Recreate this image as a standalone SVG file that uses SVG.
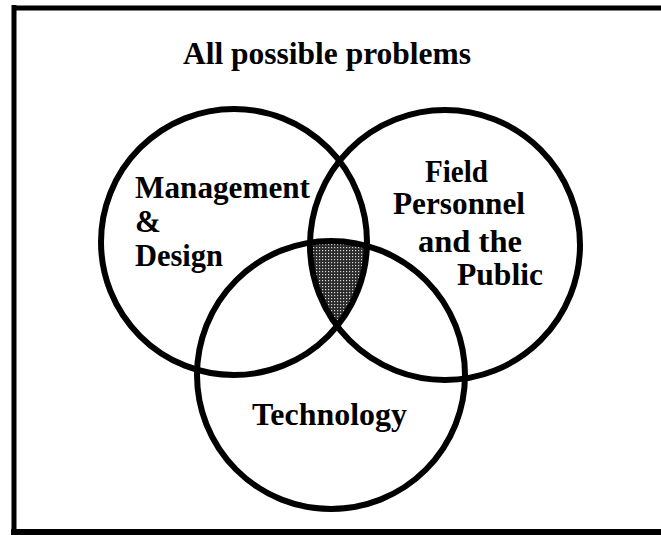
<svg xmlns="http://www.w3.org/2000/svg" width="661" height="535" viewBox="0 0 661 535">
  <style>
    .ring { fill: none; stroke: #000; stroke-width: 6; }
    .label { font-family: "Liberation Serif", "Times New Roman", serif; font-weight: bold; font-size: 31px; fill: #000; }
  </style>
  <defs>
    <pattern id="halftone" width="3" height="3" patternUnits="userSpaceOnUse">
      <rect width="3" height="3" fill="#2a2a2a"/>
      <rect x="1" y="1" width="1.2" height="1.2" fill="#d8d8d8"/>
    </pattern>
    <clipPath id="clipLeft"><circle cx="234" cy="242" r="133"/></clipPath>
    <clipPath id="clipRight"><circle cx="445" cy="245" r="135"/></clipPath>
  </defs>

  <rect width="661" height="535" fill="#fff"/>

  <!-- frame -->
  <g id="frame" fill="none" stroke="#000">
    <line x1="14" y1="8" x2="661" y2="8" stroke-width="5"/>
    <line x1="14" y1="5" x2="14" y2="535" stroke-width="5"/>
    <line x1="11" y1="532" x2="661" y2="532" stroke-width="6"/>
  </g>

  <g id="title">
    <text class="label" x="183" y="64" textLength="288" lengthAdjust="spacingAndGlyphs">All possible problems</text>
  </g>

  <!-- region shared by all three sets -->
  <g id="overlap" clip-path="url(#clipLeft)">
    <g clip-path="url(#clipRight)">
      <circle cx="331" cy="375" r="134" fill="url(#halftone)"/>
    </g>
  </g>

  <g id="management-design">
    <circle class="ring" cx="234" cy="242" r="133"/>
    <text class="label" x="135" y="198" textLength="175" lengthAdjust="spacingAndGlyphs">Management</text>
    <text class="label" x="135" y="232">&amp;</text>
    <text class="label" x="135" y="266" textLength="88" lengthAdjust="spacingAndGlyphs">Design</text>
  </g>

  <g id="field-personnel">
    <circle class="ring" cx="445" cy="245" r="135"/>
    <text class="label" x="425" y="182" textLength="63" lengthAdjust="spacingAndGlyphs">Field</text>
    <text class="label" x="393" y="214" textLength="132" lengthAdjust="spacingAndGlyphs">Personnel</text>
    <text class="label" x="418" y="252" textLength="104" lengthAdjust="spacingAndGlyphs">and the</text>
    <text class="label" x="457" y="285" textLength="86" lengthAdjust="spacingAndGlyphs">Public</text>
  </g>

  <g id="technology">
    <circle class="ring" cx="331" cy="375" r="134"/>
    <text class="label" x="252" y="425" textLength="155" lengthAdjust="spacingAndGlyphs">Technology</text>
  </g>

  <g id="connectors"/>
</svg>
